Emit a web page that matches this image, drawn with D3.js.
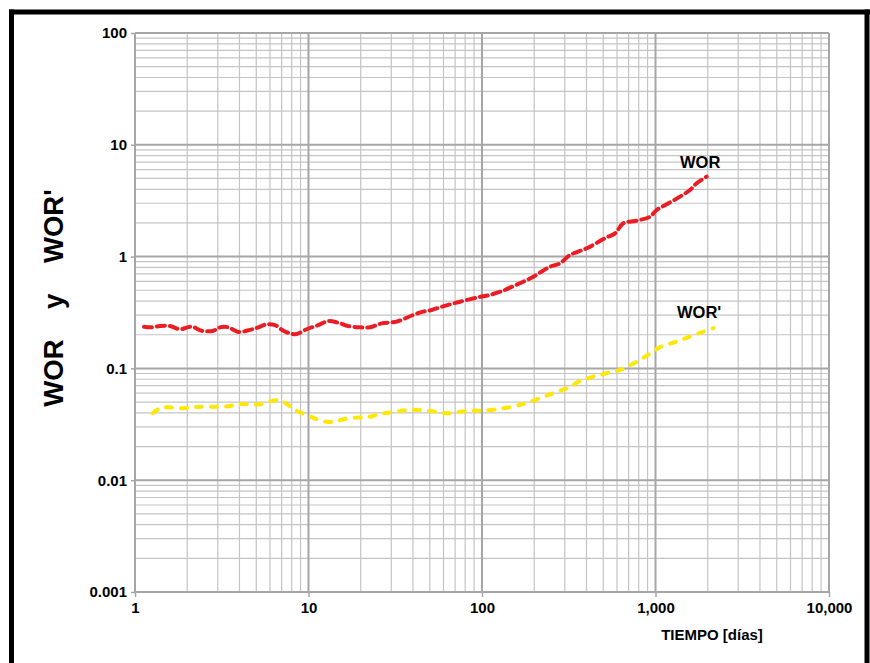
<!DOCTYPE html>
<html>
<head>
<meta charset="utf-8">
<script src="https://cdn.jsdelivr.net/npm/d3@7"></script>
<style>
  html, body { margin: 0; padding: 0; background: #fff; }
  svg { display: block; }
  text { font-family: Arial, "Liberation Sans", sans-serif; font-weight: bold; fill: #000; }
</style>
</head>
<body>
<svg id="chart" width="870" height="663"></svg>
<script>
// ---- data ----
const worTime = [1.127,1.232,1.393,1.591,1.817,2.123,2.424,2.827,3.09,3.45,3.939,4.6,5.137,5.742,6.41,7.16,7.82,8.55,9.76,11.39,13.0,14.85,16.96,19.81,22.62,26.42,32.24,40.2,45.9,51.3,58.6,65.4,74.7,95.2,111.2,132.7,141.8,173,197.6,225.6,246.6,281.6,321.6,401.4,523.4,584.3,652.3,779.2,929.5,1016,1160,1384,1581,1728,1972];
const worValues = [0.236,0.233,0.239,0.239,0.224,0.236,0.217,0.217,0.233,0.233,0.212,0.221,0.233,0.248,0.244,0.217,0.206,0.203,0.224,0.244,0.265,0.256,0.239,0.233,0.233,0.253,0.262,0.301,0.322,0.333,0.356,0.374,0.395,0.433,0.454,0.496,0.52,0.596,0.66,0.751,0.811,0.871,1.033,1.186,1.487,1.615,1.985,2.094,2.275,2.612,2.938,3.436,3.945,4.53,5.19];

const worpTime = [1.265,1.393,1.523,1.817,2.075,2.37,2.706,3.09,3.528,3.857,4.404,5.254,6.7,7.49,8.36,9.76,11.15,12.73,14.21,15.87,18.12,20.7,22.62,25.26,26.98,32.24,36.8,43.9,53.6,63.9,74.7,89.1,101.7,132.7,173,202.1,236,288,321.6,359,438,547,624,697,814,929.5,1062,1267,1446,1806,2155];
const worpValues = [0.0397,0.044,0.0449,0.044,0.0445,0.0454,0.0454,0.0454,0.0461,0.0478,0.0478,0.0478,0.0521,0.0481,0.0425,0.0383,0.0351,0.0334,0.0334,0.0351,0.0362,0.0365,0.037,0.0388,0.0397,0.041,0.0425,0.0425,0.041,0.0397,0.041,0.0419,0.0419,0.044,0.0481,0.0521,0.057,0.0641,0.0678,0.076,0.0843,0.0923,0.0968,0.105,0.119,0.136,0.155,0.17,0.183,0.208,0.229];

const xTickValues = [1, 10, 100, 1000, 10000];
const xTickLabels = ["1", "10", "100", "1,000", "10,000"];
const yTickValues = [0.001, 0.01, 0.1, 1, 10, 100];
const yTickLabels = ["0.001", "0.01", "0.1", "1", "10", "100"];

const xTitle = "TIEMPO [días]";
const yTitle = "WOR    y    WOR'";
const seriesLabels = ["WOR", "WOR'"];

// ---- drawing ----
const svg = d3.select("#chart");
const plotLeft = 135, plotRight = 829, plotTop = 33, plotBottom = 592;

const x = d3.scaleLog().domain([1, 10000]).range([plotLeft, plotRight]);
const y = d3.scaleLog().domain([0.001, 100]).range([plotBottom, plotTop]);

// frame
const frame = svg.append("g").attr("stroke", "#000").attr("stroke-width", 5).attr("fill", "none");
frame.append("line").attr("x1", 9).attr("x2", 870).attr("y1", 12).attr("y2", 12);
frame.append("line").attr("x1", 11.5).attr("x2", 11.5).attr("y1", 9.5).attr("y2", 663);
frame.append("line").attr("x1", 867).attr("x2", 867).attr("y1", 9.5).attr("y2", 663);

// minor grid values
function minorValues(lo, hi) {
  const out = [];
  for (let d = lo; d < hi; d *= 10) {
    for (let k = 2; k <= 9; k++) out.push(d * k);
  }
  return out;
}
const xMinor = minorValues(1, 10000);
const yMinor = minorValues(0.001, 100);

const grid = svg.append("g");
grid.selectAll("line.xm").data(xMinor).join("line")
  .attr("x1", d => x(d)).attr("x2", d => x(d))
  .attr("y1", plotTop).attr("y2", plotBottom)
  .attr("stroke", "#c4c4c4").attr("stroke-width", 1.2);
grid.selectAll("line.ym").data(yMinor).join("line")
  .attr("x1", plotLeft).attr("x2", plotRight)
  .attr("y1", d => y(d)).attr("y2", d => y(d))
  .attr("stroke", "#c4c4c4").attr("stroke-width", 1.2);
grid.selectAll("line.xM").data(xTickValues).join("line")
  .attr("x1", d => x(d)).attr("x2", d => x(d))
  .attr("y1", plotTop).attr("y2", plotBottom)
  .attr("stroke", "#a6a6a6").attr("stroke-width", 2);
grid.selectAll("line.yM").data(yTickValues).join("line")
  .attr("x1", plotLeft).attr("x2", plotRight)
  .attr("y1", d => y(d)).attr("y2", d => y(d))
  .attr("stroke", "#a6a6a6").attr("stroke-width", 2);

// axes
const xAxis = d3.axisBottom(x).tickValues(xTickValues)
  .tickFormat((d, i) => xTickLabels[i]).tickSize(5).tickPadding(4);
const gx = svg.append("g").attr("transform", `translate(0,${plotBottom})`).call(xAxis);
gx.select(".domain").remove();
gx.selectAll(".tick line").attr("stroke", "#a6a6a6").attr("stroke-width", 1.5);
gx.selectAll(".tick text").attr("font-size", 15).attr("font-weight", "bold")
  .attr("font-family", "Arial, 'Liberation Sans', sans-serif").attr("fill", "#000")
  .attr("dy", "0.78em");

const yAxis = d3.axisLeft(y).tickValues(yTickValues)
  .tickFormat((d, i) => yTickLabels[i]).tickSize(4).tickPadding(4);
const gy = svg.append("g").attr("transform", `translate(${plotLeft},0)`).call(yAxis);
gy.select(".domain").remove();
gy.selectAll(".tick line").attr("stroke", "#a6a6a6").attr("stroke-width", 1.5);
gy.selectAll(".tick text").attr("font-size", 15).attr("font-weight", "bold")
  .attr("font-family", "Arial, 'Liberation Sans', sans-serif").attr("fill", "#000");

// series
const line = d3.line().x(d => x(d[0])).y(d => y(d[1])).curve(d3.curveCatmullRom.alpha(0.5));
const worData = worTime.map((t, i) => [t, worValues[i]]);
const worpData = worpTime.map((t, i) => [t, worpValues[i]]);

svg.append("path").datum(worpData).attr("d", line)
  .attr("fill", "none").attr("stroke", "#ffe800").attr("stroke-width", 4)
  .attr("stroke-linecap", "round").attr("stroke-dasharray", "6,9");
svg.append("path").datum(worData).attr("d", line)
  .attr("fill", "none").attr("stroke", "#ec1c24").attr("stroke-width", 4)
  .attr("stroke-linecap", "round").attr("stroke-dasharray", "8,5");

// series labels
svg.append("text").attr("x", 680).attr("y", 168).attr("font-size", 16.5).text(seriesLabels[0]);
svg.append("text").attr("x", 677).attr("y", 318).attr("font-size", 16.5).text(seriesLabels[1]);

// axis titles
svg.append("text").attr("x", 712).attr("y", 640).attr("text-anchor", "middle")
  .attr("font-size", 15).text(xTitle);
svg.append("text").attr("transform", "translate(63,298) rotate(-90)")
  .attr("text-anchor", "middle").attr("font-size", 27.5)
  .style("white-space", "pre").text(yTitle);
</script>
</body>
</html>
